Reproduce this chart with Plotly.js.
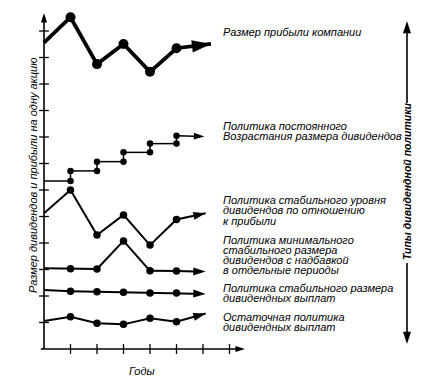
<!DOCTYPE html>
<html><head><meta charset="utf-8">
<script src="https://cdn.plot.ly/plotly-3.0.1.min.js"></script>
<style>html,body{margin:0;padding:0;background:#fff;}#chart{width:424px;height:380px;}</style>
</head><body><div id="chart"></div>
<script>
// ---- data (years on x, relative size on y) ----
const profitX = [0, 1, 2, 3, 4, 5, 6.3];
const profitY = [11.56, 12.52, 10.75, 11.51, 10.46, 11.35, 11.51];

const growthX = [0, 1, 1, 2, 2, 3, 3, 4, 4, 5, 5, 6.05];
const growthY = [6.34, 6.34, 6.72, 6.72, 7.07, 7.07, 7.42, 7.42, 7.75, 7.75, 8.05, 8.02];

const seriesX = [0, 1, 2, 3, 4, 5, 6.1];
const ratioY    = [5.12, 6.0, 4.3, 5.06, 3.92, 4.89, 5.12];
const minExtraY = [3.05, 3.03, 3.02, 4.08, 2.95, 2.94, 2.92];
const stableY   = [2.23, 2.18, 2.16, 2.14, 2.11, 2.11, 2.08];
const residualY = [1.06, 1.22, 0.97, 0.93, 1.16, 1.03, 1.34];

const yTicks = [1,2,3,4,5,6,7,8,9,10,11,12];
const xTicks = [1,2,3,4,5,6,7];

const profitLabel = ["Размер прибыли компании"];
const growthLabel = ["Политика постоянного", "Возрастания размера дивидендов"];
const ratioLabel = ["Политика стабильного уровня", "дивидендов по отношению", "к прибыли"];
const minExtraLabel = ["Политика минимального", "стабильного размера", "дивидендов с надбавкой", "в отдельные периоды"];
const stableLabel = ["Политика стабильного размера", "дивидендных выплат"];
const residualLabel = ["Остаточная политика", "дивидендных выплат"];
const yTitle = "Размер дивидендов и прибыли на одну акцию";
const xTitle = "Годы";
const sideTitle = "Типы дивидендной политики";

// ---- drawing ----
const INK = '#000000';
const FONT = 'Liberation Sans, Arial, sans-serif';
const W = 424, H = 380, OX = 44, OY = 349, U = 26.5;
const P = (px, py) => ({x: px / W, y: 1 - py / H});

function series(x, y, lw, dot, arrow) {
  const n = x.length;
  return {
    type: 'scatter', mode: 'lines+markers', x: x, y: y, cliponaxis: false, hoverinfo: 'skip',
    line: {color: INK, width: lw},
    marker: {
      color: INK, opacity: 1, line: {width: 0, color: INK}, angleref: 'previous',
      symbol: x.map((_, i) => i === n - 1 ? 'arrow' : 'circle'),
      size: x.map((_, i) => i === 0 ? 0 : (i === n - 1 ? arrow : dot))
    }
  };
}

const traces = [];
// axes with arrows
traces.push(series([0, 0], [0, (OY - 13) / U], 1.6, 0, 10));
traces.push(series([-0.12, (245 - OX) / U], [0, 0], 1.6, 0, 10));
// tick crosses
traces.push({type: 'scatter', mode: 'markers', x: yTicks.map(() => 0), y: yTicks, hoverinfo: 'skip', cliponaxis: false,
  marker: {symbol: 'line-ew', size: 7, opacity: 1, line: {color: INK, width: 1.3}}});
traces.push({type: 'scatter', mode: 'markers', x: xTicks, y: xTicks.map(() => 0), hoverinfo: 'skip', cliponaxis: false,
  marker: {symbol: 'line-ns', size: 7, opacity: 1, line: {color: INK, width: 1.3}}});

traces.push(series(profitX, profitY, 3.8, 10, 20));
traces.push(series(growthX, growthY, 1.5, 6.5, 11));
traces.push(series(seriesX, ratioY, 2, 7.5, 13));
traces.push(series(seriesX, minExtraY, 2, 7.5, 13));
traces.push(series(seriesX, stableY, 2, 7.5, 13));
traces.push(series(seriesX, residualY, 2, 7.5, 13));

// right double arrow (types of dividend policy)
const sx = (407 - OX) / U;
traces.push(series([sx, sx], [(OY - 103) / U, (OY - 21) / U], 1.6, 0, 13));
traces.push(series([sx, sx], [(OY - 263) / U, (OY - 344) / U], 1.6, 0, 13));

const ann = [];
function label(lines, y0, step) {
  lines.forEach((t, i) => {
    const p = P(222, y0 + i * step);
    ann.push({xref: 'paper', yref: 'paper', x: p.x, y: p.y, xanchor: 'left', yanchor: 'middle', borderpad: 0,
      showarrow: false, text: '<i>' + t + '</i>', font: {family: FONT, size: 11, color: INK}});
  });
}
label(profitLabel, 32, 10);
label(growthLabel, 126, 10.3);
label(ratioLabel, 199.5, 10.5);
label(minExtraLabel, 240, 10);
label(stableLabel, 287.7, 10.5);
label(residualLabel, 316.7, 10);

let p = P(33, 175);
ann.push({xref: 'paper', yref: 'paper', x: p.x, y: p.y, xanchor: 'center', yanchor: 'middle', textangle: -90,
  showarrow: false, text: '<i>' + yTitle + '</i>', font: {family: FONT, size: 11, color: INK}});
p = P(142, 371);
ann.push({xref: 'paper', yref: 'paper', x: p.x, y: p.y, xanchor: 'center', yanchor: 'middle',
  showarrow: false, text: '<i>' + xTitle + '</i>', font: {family: FONT, size: 11, color: INK}});
p = P(407, 182);
ann.push({xref: 'paper', yref: 'paper', x: p.x, y: p.y, xanchor: 'center', yanchor: 'middle', textangle: -90,
  showarrow: false, text: '<b><i>' + sideTitle + '</i></b>', font: {family: FONT, size: 10.5, color: INK}});

const layout = {
  width: W, height: H, margin: {l: 0, r: 0, t: 0, b: 0},
  paper_bgcolor: '#fff', plot_bgcolor: '#fff', showlegend: false,
  xaxis: {range: [-OX / U, (W - OX) / U], visible: false, fixedrange: true},
  yaxis: {range: [(OY - H) / U, OY / U], visible: false, fixedrange: true},
  annotations: ann
};
Plotly.newPlot('chart', traces, layout, {staticPlot: true, displayModeBar: false});
</script>
</body></html>
